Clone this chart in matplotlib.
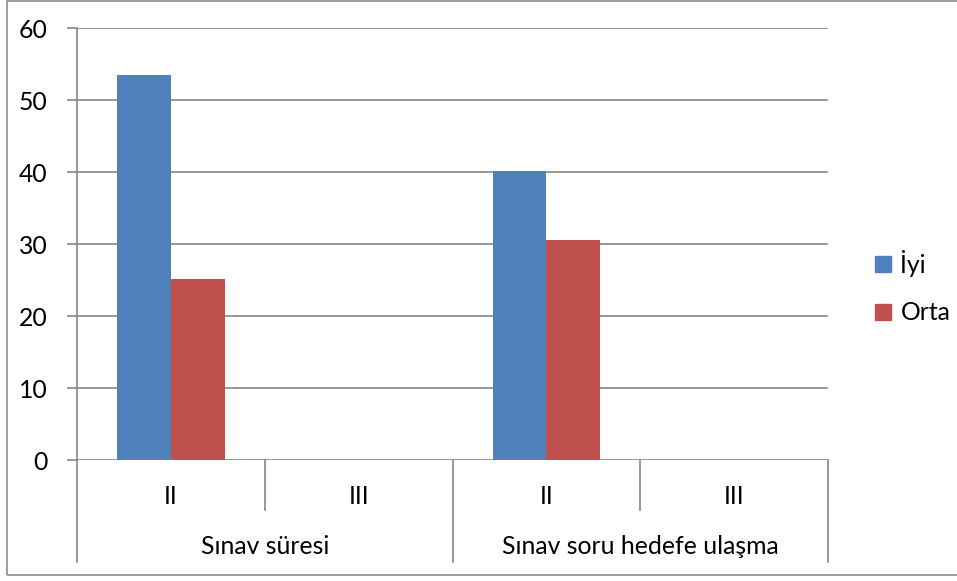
import matplotlib
matplotlib.use("Agg")
import matplotlib.pyplot as plt
from matplotlib.patches import Patch, Rectangle
from matplotlib.lines import Line2D
import matplotlib.transforms as mtrans

plt.rcParams['font.family'] = ['Lato', 'DejaVu Sans']

# Data
groups = ["Sınav süresi", "Sınav soru hedefe ulaşma"]
subcats = ["II", "III", "II", "III"]
series_names = ["İyi", "Orta"]
iyi = [53.5, 0, 40.2, 0]
orta = [25.2, 0, 30.5, 0]
yticks = [0, 10, 20, 30, 40, 50, 60]

BLUE = "#4F81BD"
RED = "#C0504D"
GRID = "#868686"

W, H = 957, 581
fig = plt.figure(figsize=(W / 100, H / 100), dpi=100)

# outer frame
fig.patches.append(Rectangle((7 / W, 1 - 575 / H), (W + 10) / W, (574) / H,
                             transform=fig.transFigure, fill=False,
                             edgecolor="#8e8e8e", lw=1.2))

L, R, T, B = 77, 828, 28, 460
ax = fig.add_axes([L / W, 1 - B / H, (R - L) / W, (B - T) / H])

n = len(subcats)
x = list(range(n))
bw = 1 / 3.5
ax.bar([i - bw / 2 for i in x], iyi, width=bw, color=BLUE, label=series_names[0], zorder=3)
ax.bar([i + bw / 2 for i in x], orta, width=bw, color=RED, label=series_names[1], zorder=3)

fs = 17.8
ax.set_xlim(-0.5, n - 0.5)
ax.set_ylim(0, 60)
ax.set_yticks(yticks)
ax.yaxis.grid(True, color=GRID, lw=1.2, zorder=0)
ax.set_axisbelow(True)
for s in ["top", "right", "bottom"]:
    ax.spines[s].set_visible(False)
ax.spines["left"].set_color(GRID)
ax.spines["left"].set_linewidth(1.2)
ax.tick_params(axis="y", length=7, width=1.2, color=GRID, labelsize=fs, pad=14)
ax.set_xticks([])

# category axis (two-level)
trans = mtrans.blended_transform_factory(ax.transData, ax.transAxes)
ax_h = B - T
short = -(510 - B) / ax_h
long_ = -(562 - B) / ax_h
for i in range(n + 1):
    xb = i - 0.5
    yend = long_ if i % 2 == 0 else short
    ax.add_line(Line2D([xb, xb], [0, yend], transform=trans, color=GRID,
                       lw=1.2, clip_on=False))
for i, lab in enumerate(subcats):
    ax.text(i, -(497 - B) / ax_h, lab, transform=trans, ha="center", va="center",
            fontsize=fs)
for g, lab in enumerate(groups):
    ax.text(2 * g + 0.5, -(547 - B) / ax_h, lab, transform=trans, ha="center",
            va="center", fontsize=fs)

handles = [Patch(facecolor=BLUE, edgecolor=BLUE), Patch(facecolor=RED, edgecolor=RED)]
fig.legend(handles, series_names, loc="center left",
           bbox_to_anchor=(853 / W, 1 - 287 / H), frameon=False, fontsize=fs,
           handlelength=0.62, handleheight=0.62, handletextpad=0.4,
           labelspacing=1.0)

fig.savefig("out.png", dpi=100)
